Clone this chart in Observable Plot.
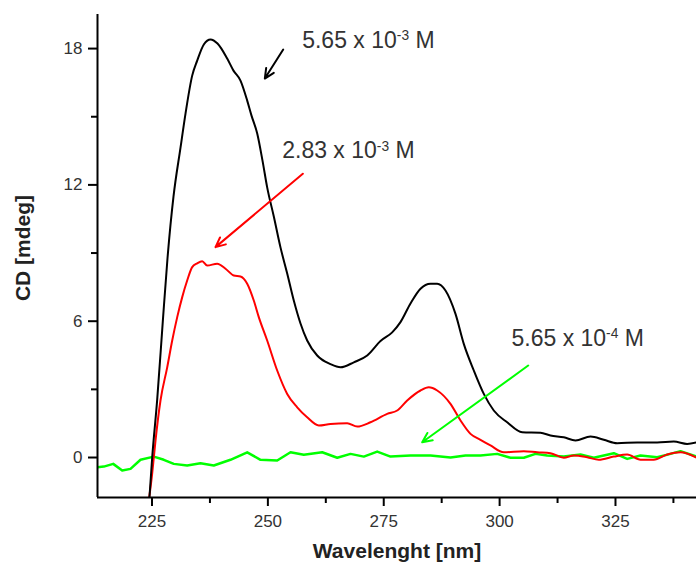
<!DOCTYPE html>
<html>
<head>
<meta charset="utf-8">
<script src="https://cdn.jsdelivr.net/npm/d3@7"></script>
<script src="https://cdn.jsdelivr.net/npm/@observablehq/plot@0.6"></script>
<style>
  html, body { margin: 0; padding: 0; background: #fff; }
  #chart { width: 696px; height: 568px; }
</style>
</head>
<body>
<div id="chart"></div>
<script>
// ---- data ----
const blackWl = [224.4,225.04,226.12,227.33,228.34,229.64,231.15,232.23,233.67,234.75,236.18,237.62,239.13,241.22,242.58,244.09,245.54,246.47,247.70,248.84,249.86,251.28,252.72,254.17,255.59,257.04,258.48,260.64,263.51,265.67,268.54,271.43,274.30,276.82,278.61,280.77,282.93,285.09,286.53,288.32,290.48,292.27,294.43,296.59,298.74,301.63,304.87,308.82,310.98,313.85,316.37,319.61,322.48,325.37,329.68,334.0,337.58,340.47,342.48];
const blackCD = [-1.9,0,2.55,5.99,8.76,11.49,13.64,15.14,16.81,17.47,18.18,18.40,18.22,17.56,17.03,16.59,15.71,15.05,14.26,13.07,11.88,10.61,9.25,8.10,6.91,5.90,5.15,4.49,4.11,3.97,4.19,4.49,5.13,5.51,5.96,6.78,7.43,7.65,7.65,7.35,6.32,5.00,3.83,2.80,2.07,1.55,1.11,1.09,0.97,0.89,0.75,0.92,0.78,0.63,0.66,0.66,0.70,0.60,0.67];

const redWl = [224.31,225.04,225.39,225.76,226.83,228.28,229.36,230.44,231.52,232.59,233.67,234.75,235.83,236.91,239.07,240.86,242.65,244.09,245.54,246.96,248.04,249.85,252.01,254.17,256.33,258.48,260.99,263.51,267.11,269.27,272.14,275.74,277.90,280.06,282.93,284.72,286.53,289.40,291.56,293.72,295.87,298.03,300.90,305.22,308.11,310.98,313.85,316.01,318.90,321.40,324.64,327.53,330.40,333.26,336.15,339.02,342.48];
const redCD = [-1.89,-0.70,0,0.75,2.51,3.97,5.15,6.18,7.06,7.79,8.38,8.55,8.64,8.45,8.53,8.31,8.01,7.97,7.65,6.91,6.18,5.15,3.83,2.80,2.21,1.77,1.41,1.48,1.51,1.36,1.55,1.92,2.07,2.51,2.95,3.09,2.95,2.36,1.63,1.04,0.78,0.53,0.23,0.28,0.23,0.19,-0.01,0.09,0.01,-0.10,0.04,0.13,-0.10,-0.10,0.13,0.23,-0.01];

const greenWl = [213.24,214.6,216.63,218.57,220.36,222.52,225.39,227.55,229.70,232.59,235.46,238.33,241.93,245.54,248.41,252.01,254.88,257.75,261.72,264.96,267.83,270.70,273.59,276.46,280.77,285.09,289.40,292.64,295.87,299.48,302.35,305.22,307.74,310.26,313.85,317.45,320.32,324.64,327.53,330.40,334.0,336.87,339.02,342.48];
const greenCD = [-0.43,-0.40,-0.28,-0.57,-0.50,-0.10,0.04,-0.10,-0.28,-0.35,-0.25,-0.35,-0.10,0.23,-0.10,-0.13,0.23,0.12,0.23,-0.01,0.16,0.04,0.26,0.04,0.09,0.09,0,0.09,0.09,0.16,-0.01,-0.01,0.16,0.09,0.04,0.13,-0.01,0.19,-0.06,0.09,0.01,0.16,0.28,0.04];

const xTicks = [225, 250, 275, 300, 325];
const xMinor = [237.5, 262.5, 287.5, 312.5, 337.5];
const yTicks = [0, 6, 12, 18];
const yMinor = [3, 9, 15];

const labels = ["5.65 x 10^-3^ M", "2.83 x 10^-3^ M", "5.65 x 10^-4^ M"];
const labelWl = [257.4, 253.09, 302.56];
const labelCD = [18.37, 13.50, 5.24];
const arrowWl1 = [253.31, 257.54, 306.17];
const arrowCD1 = [17.96, 12.49, 4.05];
const arrowWl2 = [249.34, 238.70, 283.30];
const arrowCD2 = [16.68, 9.26, 0.67];
const seriesColors = ["#000000", "#ff0000", "#00ff00"];

// ---- tables ----
const toRows = (xs, ys) => xs.map((x, i) => ({x, y: ys[i]}));
const black = toRows(blackWl, blackCD);
const red = toRows(redWl, redCD);
const green = toRows(greenWl, greenCD);
const annos = labels.map((t, i) => ({t, x: labelWl[i], y: labelCD[i]}));
const arrows = seriesColors.map((c, i) => ({c, x1: arrowWl1[i], y1: arrowCD1[i], x2: arrowWl2[i], y2: arrowCD2[i]}));

const xDom = [213.24, 342.48];
const yDom = [-1.76, 19.5];

const chart = Plot.plot({
  width: 696,
  height: 568,
  marginLeft: 97,
  marginRight: 0,
  marginTop: 14,
  marginBottom: 71,
  style: {fontFamily: "'Liberation Sans', Arial, sans-serif", fontSize: "17px", background: "#fff", color: "#000"},
  x: {domain: xDom, axis: null},
  y: {domain: yDom, axis: null},
  marks: [
    Plot.axisX({ticks: xTicks, tickSize: 9, tickPadding: 8, strokeWidth: 2, stroke: "#000", fill: "#333", fontSize: 17, tickFormat: d => String(d), label: null}),
    Plot.axisX({ticks: xMinor, tickSize: 6, strokeWidth: 2, stroke: "#000", tickFormat: () => "", label: null}),
    Plot.axisY({ticks: yTicks, tickSize: 9, tickPadding: 6, strokeWidth: 2, stroke: "#000", fill: "#333", fontSize: 17, tickFormat: d => String(d), label: null}),
    Plot.axisY({ticks: yMinor, tickSize: 6, strokeWidth: 2, stroke: "#000", tickFormat: () => "", label: null}),
    Plot.line(green, {x: "x", y: "y", stroke: seriesColors[2], strokeWidth: 2.5, clip: true}),
    Plot.line(red, {x: "x", y: "y", stroke: seriesColors[1], strokeWidth: 2, clip: true, curve: "monotone-x"}),
    Plot.line(black, {x: "x", y: "y", stroke: seriesColors[0], strokeWidth: 2, clip: true, curve: "monotone-x"}),
    Plot.ruleX([xDom[0]], {stroke: "#000", strokeWidth: 2}),
    Plot.ruleY([yDom[0]], {stroke: "#000", strokeWidth: 2}),
    Plot.arrow(arrows, {x1: "x1", y1: "y1", x2: "x2", y2: "y2", stroke: "c", strokeWidth: 2, headLength: 8, headAngle: 50}),
    Plot.text(annos, {x: "x", y: "y", text: "t", textAnchor: "start", fontSize: 23, fill: "#333"}),
    Plot.text(["CD [mdeg]"], {frameAnchor: "left", textAnchor: "middle", rotate: -90, dx: -74, dy: -8, fontSize: 21, fontWeight: "bold", fill: "#222"}),
    Plot.text(["Wavelenght [nm]"], {frameAnchor: "bottom", dy: 60, fontSize: 21, fontWeight: "bold", fill: "#222"})
  ]
});

// superscripts in annotation texts
chart.querySelectorAll("text").forEach(el => {
  const s = el.textContent;
  if (!s.includes("^")) return;
  const parts = s.split("^");
  el.textContent = "";
  const ns = "http://www.w3.org/2000/svg";
  const t1 = document.createElementNS(ns, "tspan"); t1.textContent = parts[0];
  const t2 = document.createElementNS(ns, "tspan"); t2.textContent = parts[1];
  t2.setAttribute("font-size", "0.6em"); t2.setAttribute("dy", "-0.55em");
  const t3 = document.createElementNS(ns, "tspan"); t3.textContent = parts[2];
  t3.setAttribute("dy", "0.33em");
  el.append(t1, t2, t3);
});

document.getElementById("chart").appendChild(chart);
</script>
</body>
</html>
